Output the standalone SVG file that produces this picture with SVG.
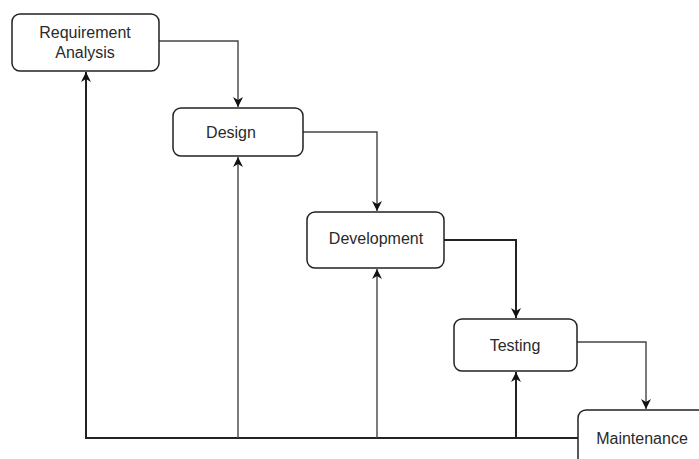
<svg xmlns="http://www.w3.org/2000/svg" width="699" height="459" viewBox="0 0 699 459">
  <style>
    .box { fill: #ffffff; stroke: #222222; stroke-width: 1.5; }
    .label { font-family: "Liberation Sans", Arial, sans-serif; font-size: 16px; fill: #2a2a2a; text-anchor: middle; }
    .edge { fill: none; stroke: #444444; stroke-width: 1.4; }
    .edge-strong { fill: none; stroke: #222222; stroke-width: 2; }
  </style>
  <defs>
    <marker id="arrow" viewBox="0 0 10 10" refX="10" refY="5" markerWidth="10" markerHeight="10" markerUnits="userSpaceOnUse" orient="auto">
      <path d="M0,0 L10,5 L0,10 L3,5 Z" fill="#111111"/>
    </marker>
  </defs>
  <rect width="699" height="459" fill="#ffffff"/>

  <g id="connectors">
    <path class="edge" d="M159,41 H238 V107" marker-end="url(#arrow)"/>
    <path class="edge" d="M303,132 H377 V211" marker-end="url(#arrow)"/>
    <path class="edge-strong" d="M444,240 H516 V318" marker-end="url(#arrow)"/>
    <path class="edge" d="M577,342 H646 V409" marker-end="url(#arrow)"/>
    <path class="edge-strong" d="M578,438 H86 V72" marker-end="url(#arrow)"/>
    <path class="edge" d="M238,438 V157" marker-end="url(#arrow)"/>
    <path class="edge" d="M377,438 V269" marker-end="url(#arrow)"/>
    <path class="edge-strong" d="M516,438 V372" marker-end="url(#arrow)"/>
  </g>

  <g id="requirement-analysis">
    <rect class="box" x="12" y="14" width="147" height="57" rx="8"/>
    <text class="label" x="85" y="38">Requirement</text>
    <text class="label" x="85" y="58">Analysis</text>
  </g>

  <g id="design">
    <rect class="box" x="173" y="108" width="130" height="48" rx="8"/>
    <text class="label" x="231" y="138">Design</text>
  </g>

  <g id="development">
    <rect class="box" x="307" y="212" width="137" height="56" rx="8"/>
    <text class="label" x="376" y="244">Development</text>
  </g>

  <g id="testing">
    <rect class="box" x="454" y="319" width="123" height="52" rx="8"/>
    <text class="label" x="515" y="351">Testing</text>
  </g>

  <g id="maintenance">
    <rect class="box" x="578" y="410" width="140" height="80" rx="8"/>
    <text class="label" x="642" y="444">Maintenance</text>
  </g>
</svg>
